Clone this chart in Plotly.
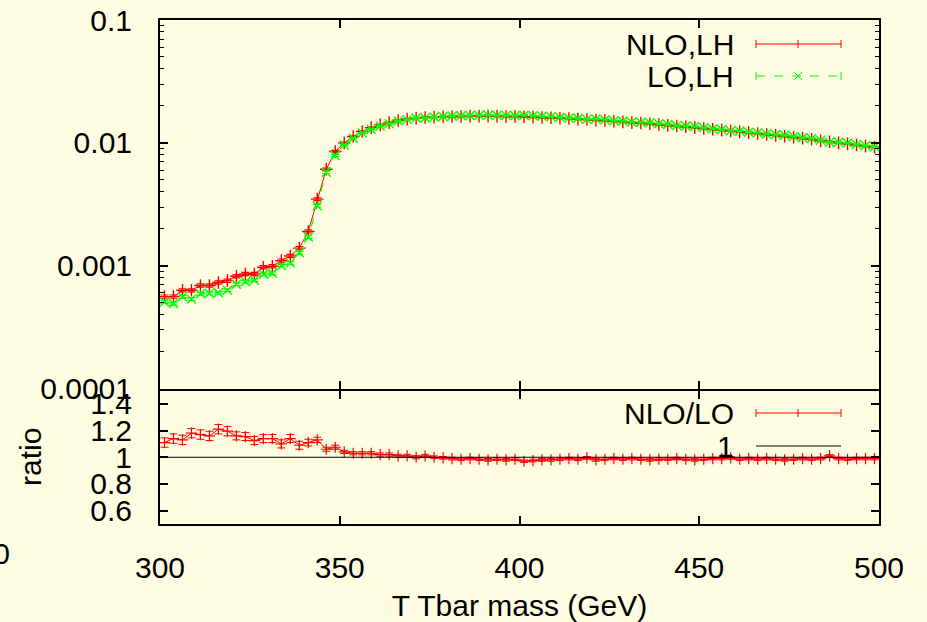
import plotly.graph_objects as go

# ---------------- data ----------------
mass = [301.25, 303.75, 306.25, 308.75, 311.25, 313.75, 316.25, 318.75, 321.25, 323.75,
        326.25, 328.75, 331.25, 333.75, 336.25, 338.75, 341.25, 343.75, 346.25, 348.75,
        351.25, 353.75, 356.25, 358.75, 361.25, 363.75, 366.25, 368.75, 371.25, 373.75,
        376.25, 378.75, 381.25, 383.75, 386.25, 388.75, 391.25, 393.75, 396.25, 398.75,
        401.25, 403.75, 406.25, 408.75, 411.25, 413.75, 416.25, 418.75, 421.25, 423.75,
        426.25, 428.75, 431.25, 433.75, 436.25, 438.75, 441.25, 443.75, 446.25, 448.75,
        451.25, 453.75, 456.25, 458.75, 461.25, 463.75, 466.25, 468.75, 471.25, 473.75,
        476.25, 478.75, 481.25, 483.75, 486.25, 488.75, 491.25, 493.75, 496.25, 498.75]

nlo = [5.6e-4, 5.6e-4, 6.3e-4, 6.3e-4, 6.9e-4, 6.9e-4, 7.3e-4, 7.55e-4, 8.2e-4, 8.55e-4,
       8.55e-4, 9.7e-4, 9.9e-4, 1.1e-3, 1.2e-3, 1.39e-3, 1.9e-3, 3.48e-3, 6.1e-3, 8.5e-3,
       0.0100, 0.01125, 0.01236, 0.0133, 0.0140, 0.0146, 0.0152, 0.0156, 0.0159, 0.0161,
       0.0162, 0.0163, 0.0164, 0.0164, 0.0165, 0.0165, 0.0165, 0.0165, 0.0164, 0.0164,
       0.0163, 0.0162, 0.0161, 0.0160, 0.0159, 0.0158, 0.0156, 0.0155, 0.0153, 0.0152,
       0.0150, 0.0148, 0.0146, 0.0145, 0.0143, 0.0141, 0.0139, 0.0137, 0.0135, 0.0133,
       0.0131, 0.0129, 0.0127, 0.0125, 0.0123, 0.0121, 0.0119, 0.0117, 0.0115, 0.0113,
       0.0111, 0.0109, 0.0107, 0.0104, 0.0102, 0.0100, 0.0098, 0.0096, 0.0094, 0.0092]

nlo_err = [1.7e-5, 1.7e-5, 1.9e-5, 1.9e-5, 2.1e-5, 2.1e-5, 2.2e-5, 2.3e-5, 2.5e-5, 2.6e-5,
           2.6e-5, 2.9e-5, 3.0e-5, 3.3e-5, 3.6e-5, 4.2e-5, 5.5e-5, 9.0e-5, 1.4e-4, 1.7e-4,
           1.5e-4, 1.5e-4, 1.6e-4, 1.6e-4, 1.6e-4, 1.7e-4, 1.7e-4, 1.7e-4, 1.7e-4, 1.7e-4,
           1.7e-4, 1.7e-4, 1.7e-4, 1.7e-4, 1.7e-4, 1.7e-4, 1.7e-4, 1.7e-4, 1.7e-4, 1.7e-4,
           1.7e-4, 1.7e-4, 1.6e-4, 1.6e-4, 1.6e-4, 1.6e-4, 1.6e-4, 1.6e-4, 1.5e-4, 1.5e-4,
           1.5e-4, 1.5e-4, 1.5e-4, 1.5e-4, 1.4e-4, 1.4e-4, 1.4e-4, 1.4e-4, 1.4e-4, 1.3e-4,
           1.3e-4, 1.3e-4, 1.3e-4, 1.3e-4, 1.2e-4, 1.2e-4, 1.2e-4, 1.2e-4, 1.2e-4, 1.1e-4,
           1.1e-4, 1.1e-4, 1.1e-4, 1.0e-4, 1.0e-4, 1.0e-4, 1.0e-4, 1.0e-4, 0.9e-4, 0.9e-4]

lo = [5.05e-4, 4.91e-4, 5.58e-4, 5.34e-4, 5.90e-4, 5.95e-4, 6.03e-4, 6.32e-4, 7.07e-4, 7.40e-4,
      7.60e-4, 8.50e-4, 8.68e-4, 1.00e-3, 1.05e-3, 1.275e-3, 1.71e-3, 3.08e-3, 5.75e-3, 7.90e-3,
      0.00960, 0.01092, 0.01200, 0.01291, 0.01373, 0.01431, 0.01505, 0.01545, 0.01590, 0.01594,
      0.01620, 0.01638, 0.01657, 0.01665, 0.01667, 0.01675, 0.01684, 0.01675, 0.01673, 0.01665,
      0.01680, 0.01662, 0.01643, 0.01633, 0.01614, 0.01596, 0.01584, 0.01558, 0.01561, 0.01543,
      0.01515, 0.01503, 0.01475, 0.01472, 0.01459, 0.01431, 0.01411, 0.01384, 0.01371, 0.01357,
      0.01330, 0.01303, 0.01283, 0.01256, 0.01249, 0.01222, 0.01208, 0.01182, 0.01168, 0.01153,
      0.01127, 0.01101, 0.01086, 0.01050, 0.01010, 0.01010, 0.00995, 0.00970, 0.00950, 0.00929]

lo_err = [1.3e-5, 1.3e-5, 1.4e-5, 1.4e-5, 1.5e-5, 1.5e-5, 1.5e-5, 1.6e-5, 1.8e-5, 1.9e-5,
          1.9e-5, 2.1e-5, 2.2e-5, 2.5e-5, 2.6e-5, 3.2e-5, 4.3e-5, 7.7e-5, 1.2e-4, 1.6e-4,
          1.0e-4, 1.1e-4, 1.2e-4, 1.3e-4, 1.4e-4, 1.4e-4, 1.5e-4, 1.5e-4, 1.6e-4, 1.6e-4,
          1.6e-4, 1.6e-4, 1.7e-4, 1.7e-4, 1.7e-4, 1.7e-4, 1.7e-4, 1.7e-4, 1.7e-4, 1.7e-4,
          1.7e-4, 1.7e-4, 1.6e-4, 1.6e-4, 1.6e-4, 1.6e-4, 1.6e-4, 1.6e-4, 1.6e-4, 1.5e-4,
          1.5e-4, 1.5e-4, 1.5e-4, 1.5e-4, 1.5e-4, 1.4e-4, 1.4e-4, 1.4e-4, 1.4e-4, 1.4e-4,
          1.3e-4, 1.3e-4, 1.3e-4, 1.3e-4, 1.2e-4, 1.2e-4, 1.2e-4, 1.2e-4, 1.2e-4, 1.2e-4,
          1.1e-4, 1.1e-4, 1.1e-4, 1.0e-4, 1.0e-4, 1.0e-4, 1.0e-4, 1.0e-4, 0.9e-4, 0.9e-4]

ratio = [1.11, 1.14, 1.13, 1.18, 1.17, 1.16, 1.21, 1.195, 1.16, 1.155,
         1.125, 1.14, 1.14, 1.10, 1.14, 1.09, 1.11, 1.13, 1.06, 1.075,
         1.04, 1.03, 1.03, 1.03, 1.02, 1.02, 1.01, 1.01, 1.00, 1.01,
         1.00, 0.995, 0.99, 0.985, 0.99, 0.985, 0.98, 0.985, 0.98, 0.985,
         0.97, 0.975, 0.98, 0.98, 0.985, 0.99, 0.985, 0.995, 0.98, 0.985,
         0.99, 0.985, 0.99, 0.985, 0.98, 0.985, 0.985, 0.99, 0.985, 0.98,
         0.985, 0.99, 0.99, 0.995, 0.985, 0.99, 0.985, 0.99, 0.985, 0.98,
         0.985, 0.99, 0.985, 0.99, 1.01, 0.99, 0.985, 0.99, 0.99, 0.99]

ratio_err = [0.035, 0.035, 0.035, 0.035, 0.035, 0.035, 0.035, 0.035, 0.03, 0.03,
             0.03, 0.03, 0.03, 0.03, 0.03, 0.03, 0.025, 0.02, 0.015, 0.015,
             0.012, 0.012, 0.012, 0.012, 0.012, 0.012, 0.012, 0.012, 0.012, 0.012,
             0.01, 0.01, 0.01, 0.01, 0.01, 0.01, 0.01, 0.01, 0.01, 0.01,
             0.01, 0.01, 0.01, 0.01, 0.01, 0.01, 0.01, 0.01, 0.01, 0.01,
             0.01, 0.01, 0.01, 0.01, 0.01, 0.01, 0.01, 0.01, 0.01, 0.01,
             0.01, 0.01, 0.01, 0.01, 0.01, 0.01, 0.01, 0.01, 0.01, 0.01,
             0.01, 0.01, 0.01, 0.01, 0.01, 0.01, 0.01, 0.01, 0.01, 0.01]

x_ticks = [300, 350, 400, 450, 500]
y_top_ticks = [1e-4, 1e-3, 1e-2, 1e-1]
y_top_labels = ["0.0001", "0.001", "0.01", "0.1"]
y_ratio_ticks = [0.6, 0.8, 1.0, 1.2, 1.4]
y_ratio_labels = ["0.6", "0.8", "1", "1.2", "1.4"]
legend_top = ["NLO,LH", "LO,LH"]
legend_bot = ["NLO/LO", "1"]

# ---------------- style ----------------
BG = "#fffde1"
RED = "#ff0000"
GREEN = "#00ff00"
FONT = "Liberation Sans, Arial, sans-serif"
FS = 30
W, H = 927, 622
L, R, T, B = 160, 879, 20, 524
SPLIT = 389.5

def px(xp):
    return (xp - L) / (R - L)

def py(yp):
    return (B - yp) / (B - T)

fig = go.Figure()

# top panel
fig.add_trace(go.Scatter(
    x=mass, y=nlo, xaxis="x2", yaxis="y2", mode="lines+markers",
    line=dict(color=RED, width=1),
    marker=dict(symbol="cross-thin", size=9, line=dict(color=RED, width=1.4)),
    error_y=dict(type="data", array=nlo_err, color=RED, thickness=1.2, width=4),
    showlegend=False))
fig.add_trace(go.Scatter(
    x=mass, y=lo, xaxis="x2", yaxis="y2", mode="lines+markers",
    line=dict(color=GREEN, width=1, dash="dash"),
    marker=dict(symbol="x-thin", size=9, line=dict(color=GREEN, width=1.4)),
    error_y=dict(type="data", array=lo_err, color=GREEN, thickness=1.2, width=4),
    showlegend=False))

# ratio panel
fig.add_trace(go.Scatter(
    x=mass, y=ratio, xaxis="x", yaxis="y", mode="lines+markers",
    line=dict(color=RED, width=1),
    marker=dict(symbol="cross-thin", size=8, line=dict(color=RED, width=1.2)),
    error_y=dict(type="data", array=ratio_err, color=RED, thickness=1, width=4),
    showlegend=False))
fig.add_trace(go.Scatter(
    x=[x_ticks[0], x_ticks[-1]], y=[1, 1], xaxis="x", yaxis="y", mode="lines",
    line=dict(color="black", width=1), showlegend=False))

axis_common = dict(showgrid=False, zeroline=False, showline=True, linecolor="black",
                   linewidth=2, mirror="ticks", ticks="inside", tickcolor="black",
                   tickwidth=1.5, ticklen=8, automargin=False,
                   tickfont=dict(family=FONT, size=FS, color="black"))

# panels separated so that their 2px frame lines coincide on one row
top_bottom = py(SPLIT - 1)
ratio_top = py(SPLIT + 1)
fig.update_layout(
    width=W, height=H,
    paper_bgcolor=BG, plot_bgcolor=BG,
    margin=dict(l=L, r=W - R, t=T, b=H - B, pad=0),
    font=dict(family=FONT, size=FS, color="black"),
    xaxis=dict(axis_common, domain=[0, 1], anchor="y", range=[300, 500],
               tickvals=x_ticks, ticktext=[str(v) for v in x_ticks],
               ticklabelstandoff=16,
               title=dict(text="T Tbar mass (GeV)", standoff=14,
                          font=dict(family=FONT, size=FS))),
    yaxis=dict(axis_common, domain=[0, ratio_top], anchor="x", range=[0.5, 1.5],
               tickvals=y_ratio_ticks, ticktext=y_ratio_labels, ticklabelstandoff=20),
    xaxis2=dict(axis_common, domain=[0, 1], anchor="y2", range=[300, 500],
                matches="x", tickvals=x_ticks, showticklabels=False),
    yaxis2=dict(axis_common, domain=[top_bottom, 1], anchor="x2", type="log",
                range=[-4, -1], tickvals=y_top_ticks, ticktext=y_top_labels,
                ticklabelstandoff=20,
                minor=dict(ticks="inside", ticklen=4, tickcolor="black", tickwidth=1.2,
                           tickvals=[m * 10 ** e for e in (-4, -3, -2) for m in range(2, 10)])),
)

ann = []
shapes = []
# clipped "250" tick label at far left
ann.append(dict(text="250", x=px(12), y=py(553), xref="paper", yref="paper",
                xanchor="right", yanchor="middle", showarrow=False,
                font=dict(family=FONT, size=FS)))
# ratio y title
ann.append(dict(text="ratio", x=px(30), y=py(457), xref="paper", yref="paper",
                xanchor="center", yanchor="middle", textangle=-90, showarrow=False,
                font=dict(family=FONT, size=FS)))

def legend_entry(label, ypix, color, dash, marker, caps):
    ann.append(dict(text=label, x=px(736), y=py(ypix), xref="paper", yref="paper",
                    xanchor="right", yanchor="middle", showarrow=False,
                    font=dict(family=FONT, size=FS)))
    x0, x1, xm = px(756), px(841), px(798)
    shapes.append(dict(type="line", xref="paper", yref="paper", x0=x0, x1=x1,
                       y0=py(ypix), y1=py(ypix), line=dict(color=color, width=1, dash=dash)))
    if caps:
        for xc in (756, 841):
            shapes.append(dict(type="line", xref="paper", yref="paper",
                               x0=px(xc), x1=px(xc), y0=py(ypix - 4), y1=py(ypix + 4),
                               line=dict(color=color, width=1)))
    if marker == "+":
        shapes.append(dict(type="line", xref="paper", yref="paper",
                           x0=xm, x1=xm, y0=py(ypix - 4), y1=py(ypix + 4),
                           line=dict(color=color, width=1)))
    elif marker == "x":
        shapes.append(dict(type="line", xref="paper", yref="paper",
                           x0=px(794), x1=px(802), y0=py(ypix - 4), y1=py(ypix + 4),
                           line=dict(color=color, width=1)))
        shapes.append(dict(type="line", xref="paper", yref="paper",
                           x0=px(794), x1=px(802), y0=py(ypix + 4), y1=py(ypix - 4),
                           line=dict(color=color, width=1)))

legend_entry(legend_top[0], 44, RED, "solid", "+", True)
legend_entry(legend_top[1], 76, GREEN, "dash", "x", True)
legend_entry(legend_bot[0], 413, RED, "solid", "+", True)
legend_entry(legend_bot[1], 446, "black", "solid", None, False)

fig.update_layout(annotations=ann, shapes=shapes)

fig.write_html("out.html", config={"displayModeBar": False},
               post_script="document.body.style.margin='0';")
